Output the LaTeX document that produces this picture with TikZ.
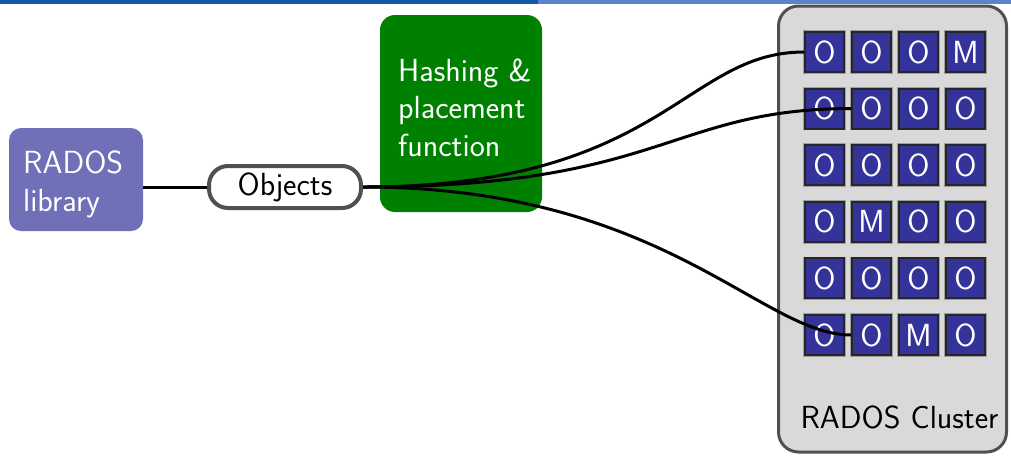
\documentclass[tikz,border=0pt]{standalone}
\definecolor{barleft}{RGB}{20,88,165}
\definecolor{barright}{RGB}{92,130,205}
\definecolor{osdblue}{RGB}{51,51,153}
\definecolor{libblue}{RGB}{112,112,184}
\definecolor{hashgreen}{RGB}{0,128,0}
\definecolor{clusterfill}{RGB}{217,217,217}
\definecolor{edgegray}{RGB}{80,80,80}
\tikzset{
  conn/.style={line width=3pt, black},
  osdbox/.style={fill=osdblue, draw=black!85, line width=2pt,
    preaction={draw=gray!75, line width=3.6pt},
    minimum width=39pt, minimum height=40pt, inner sep=0pt, text=white},
  rbox/.style={rounded corners=#1, inner sep=0pt},
  boxtext/.style={anchor=base west, inner sep=0pt, text=white, align=left},
}
\begin{document}
\begin{tikzpicture}[x=1pt,y=-1pt,font=\sffamily\fontsize{32}{37.5}\selectfont]
\useasboundingbox (0,0) rectangle (1011,456);
% header rule
\fill[barleft] (0,0) rectangle (538,3.5);
\fill[barright] (538,0) rectangle (1011,3.5);

% cluster container
\node[draw=edgegray, fill=clusterfill, line width=3pt, rounded corners=20pt,
      minimum width=228pt, minimum height=446pt] (cluster) at (892.5,229) {};
\node[anchor=base, inner sep=0pt] (clusterlabel) at (899.5,428) {RADOS Cluster};

% object store grid
\foreach \row/\letters [count=\r] in {1/{O,O,O,M},2/{O,O,O,O},3/{O,O,O,O},4/{O,M,O,O},5/{O,O,O,O},6/{O,O,M,O}}{
  \foreach \ch [count=\c] in \letters {
    \pgfmathsetmacro{\cx}{824.5+47*(\c-1)}
    \pgfmathsetmacro{\cy}{52+56.6*(\r-1)}
    \node[osdbox] (c-\r-\c) at (\cx,\cy) {\ch};
  }
}

% client side (text anchored at the baseline of its last line)
\node[rbox=12pt, fill=libblue, minimum width=134pt, minimum height=103pt] (lib) at (76,179.5) {};
\node[boxtext] (libtext) at (23,211) {RADOS\\library};
\node[draw=edgegray, fill=white, line width=4pt, rounded corners=19pt,
      minimum width=152pt, minimum height=42pt, inner sep=0pt] (obj) at (285,187) {Objects};
\node[rbox=15pt, fill=hashgreen, minimum width=162pt, minimum height=197pt] (hash) at (461,113.5) {};
\node[boxtext] (hashtext) at (398,156) {Hashing \&\\placement\\function};

% connectors
\draw[conn] (obj.west -| lib.east) -- (obj.west);
\draw[conn] (obj.east) .. controls +(300,0) and +(-120,0) .. (c-1-1.west);
\draw[conn] (obj.east) .. controls +(300,0) and +(-180,0) .. (c-2-2.west);
\draw[conn] (obj.east) .. controls +(300,0) and +(-90,0) .. (c-6-2.west);
\end{tikzpicture}
\end{document}
